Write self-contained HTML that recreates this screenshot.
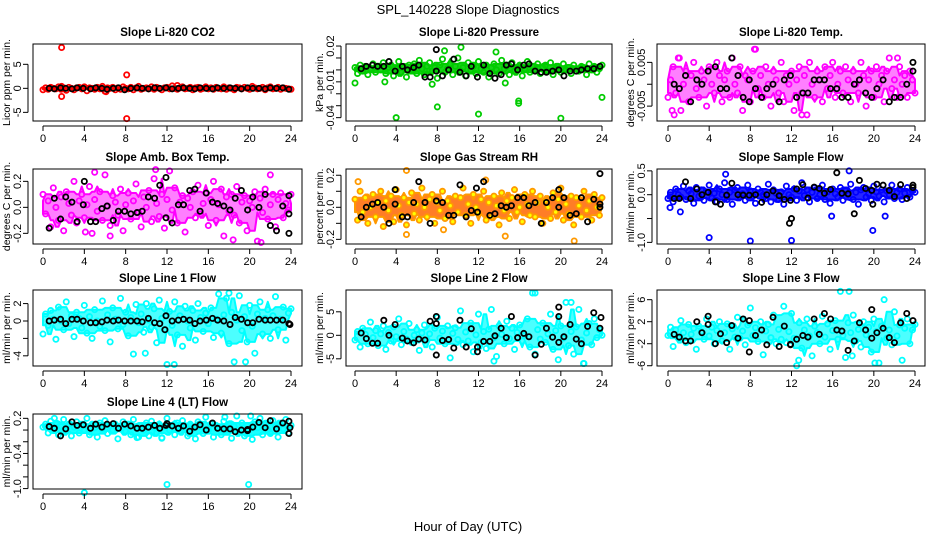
<!DOCTYPE html>
<html><head><meta charset="utf-8">
<style>
html,body{margin:0;padding:0;background:#fff;}
svg{display:block;font-family:"Liberation Sans",Arial,sans-serif;}
</style></head>
<body>
<svg id="chart" width="936" height="540" viewBox="0 0 936 540" xmlns="http://www.w3.org/2000/svg">
<text x="468" y="14" text-anchor="middle" font-size="13">SPL_140228  Slope Diagnostics</text>
<text x="468" y="531" text-anchor="middle" font-size="13">Hour of Day (UTC)</text>
</svg>
<script>
const xTicks = [0,4,8,12,16,20,24];
const blackHours = [0.6,1.1,1.7,2.2,2.8,3.3,3.9,4.6,5.1,5.7,6.2,6.8,7.3,7.9,8.5,9.1,9.6,10.2,10.8,11.3,11.9,12.5,13.1,13.6,14.2,14.7,15.2,15.8,16.4,16.9,17.5,18.1,18.6,19.2,19.8,20.3,20.9,21.5,22.0,22.6,23.2,23.8];

const co2C = [-0.3,0.1,-0.2,0.2,0,-0.1,0.3,-0.2,0.1,-0.4,0.2,0,-0.3,0.1,0.2,-0.1,0.3,-0.5,0.1,0,-0.2,0.2,-0.1,0.4,-0.6,0.1,0,0.2,-0.3,0.1,-0.2,0.3,0,-0.1,0.2,-0.3,0.1,0.4,-0.2,0,0.1,-0.1,0.3,-0.2,0.2,0,-0.3,0.1,0.2,-0.1,0.5,0,-0.2,0.1,0.3,-0.1,0,0.2,-0.3,0.1,0.2,-0.2,0,0.3,-0.1,0.1,-0.2,0.2,0,-0.1,0.3,-0.2,0.1,0,-0.3,0.2,0.1,-0.1,0.2,0,-0.2,0.4,0.1,-0.1,0,0.2,-0.3,0.1,0.3,-0.1,0,0.2,-0.2,0.1,0,-0.1,-0.2];
const co2K = [0,-0.1,0.1,0,-0.1,0.1,0,-0.1,0.1,0,-0.2,0,0.1,-0.3,0,0.1,0,-0.1,0.1,0,0.1,-0.1,0,0.1,0,-0.1,0.1,0,-0.1,0.1,0,0.1,0,-0.1,0.1,0,0,-0.1,0.1,0,0.1,-0.2];
const co2Out = [[1.8,8.5],[1.8,-1.7],[8.1,2.8],[8.1,-6.3],[6.1,-0.7],[1.8,0.4],[13,0.6]];
const co2KOut = [];

const presC = [0.002,-0.003,0.004,-0.001,0.003,-0.004,0.001,0.005,-0.002,0.003,0.000,0.006,-0.003,0.002,0.004,-0.005,0.001,0.007,-0.002,0.003,-0.006,0.004,0.000,0.005,-0.003,0.008,0.001,-0.004,0.003,0.006,-0.001,0.002,-0.007,0.004,0.009,-0.002,0.001,0.005,-0.004,0.003,0.010,-0.001,0.002,-0.005,0.006,0.000,0.003,-0.003,0.007,0.001,-0.002,0.004,-0.006,0.002,0.005,0.000,-0.003,0.008,0.001,0.003,-0.004,0.006,-0.001,0.002,0.004,-0.005,0.001,0.007,-0.002,0.003,0.000,0.005,-0.003,0.002,0.004,-0.001,0.006,-0.004,0.001,0.003,-0.002,0.005,0.000,0.002,-0.003,0.004,0.001,-0.001,0.003,0.002,-0.004,0.005,0.000,0.003,-0.002,0.001,0.004];
const presK = [0.001,0.003,0.004,0.003,0.003,0.007,-0.001,0.003,0.000,0.002,0.004,-0.006,-0.006,-0.001,-0.005,0.000,0.009,-0.002,-0.005,0.003,-0.006,0.004,-0.003,-0.007,-0.004,0.004,0.005,0.000,0.004,0.005,-0.001,-0.002,-0.002,-0.001,0.000,-0.005,-0.001,-0.001,0.000,0.001,0.001,0.003];
const presOut = [[0,-0.011],[2.9,-0.010],[4,-0.040],[8,-0.031],[12,-0.037],[15.9,-0.026],[15.9,-0.028],[20,-0.0405],[24,-0.023],[10.3,0.019],[8.7,0.016],[13.7,0.015],[7.5,-0.012],[14.6,-0.011]];
const presKOut = [[7.9,0.017]];

const tempC = [-0.003,0.001,0.004,-0.002,0.006,-0.006,0.000,0.003,-0.004,0.002,0.005,-0.001,-0.003,0.003,0.001,-0.005,0.004,0.000,-0.002,0.005,0.002,-0.004,0.001,0.003,-0.003,0.006,0.000,-0.002,0.004,-0.006,0.002,0.001,-0.004,0.003,0.008,-0.001,0.002,-0.003,0.004,0.000,-0.005,0.003,0.001,-0.002,0.005,-0.004,0.002,0.000,0.003,-0.006,0.001,0.004,-0.002,0.002,-0.007,0.005,0.000,-0.003,0.003,0.001,-0.004,0.004,-0.001,0.002,0.005,-0.003,0.000,0.003,-0.002,0.004,0.001,-0.004,0.003,0.000,-0.002,0.005,0.002,-0.005,0.001,0.003,-0.003,0.004,0.000,0.002,-0.004,0.003,0.006,-0.001,0.001,-0.003,0.004,0.000,0.002,-0.003,0.003,0.001,-0.002];
const tempK = [0.000,-0.001,0.002,-0.004,0.001,0.000,0.003,0.004,-0.001,-0.001,0.006,0.002,-0.003,0.001,-0.001,-0.003,-0.001,0.000,-0.004,0.001,0.002,-0.003,-0.002,-0.002,0.001,0.001,0.001,-0.001,-0.001,-0.003,-0.003,0.000,0.001,-0.002,-0.003,-0.001,0.001,-0.004,-0.003,-0.003,0.000,0.003];
const tempOut = [[0.6,-0.007],[1.1,0.006],[8.4,0.008],[13.0,-0.007],[0.4,-0.006],[22.3,0.006]];
const tempKOut = [[23.8,0.005],[7.9,-0.004]];

const boxC = [0.1,-0.05,0.05,-0.15,0.15,0,-0.1,0.08,-0.18,0.12,0.03,-0.06,0.2,-0.12,0.05,0.1,-0.08,0.02,0.16,-0.2,0.06,-0.03,0.12,-0.1,0.25,0.01,-0.14,0.09,0.04,-0.06,0.14,-0.18,0.02,0.11,-0.09,0.05,0.18,-0.04,-0.15,0.08,0.0,0.13,-0.11,0.22,0.03,-0.07,0.1,-0.16,0.06,0.28,-0.02,0.15,-0.12,0.04,0.09,-0.19,0.07,0.0,0.12,-0.08,0.17,-0.05,0.03,0.11,-0.14,0.06,0.2,-0.1,0.02,0.14,-0.22,0.08,-0.03,0.1,-0.06,0.16,-0.12,0.04,0.09,-0.18,0.05,0.0,0.12,-0.26,0.07,-0.04,0.14,-0.09,0.02,0.1,-0.15,0.06,0.11,-0.08,0.03,-0.02,0.1];
const boxK = [-0.16,0.07,-0.09,0.08,0.04,-0.11,0.02,-0.11,-0.11,-0.01,0.01,-0.1,-0.03,-0.03,-0.05,-0.04,-0.03,0.08,0.07,0.17,-0.08,-0.12,0.02,0.02,0.13,0.14,-0.03,0.11,0.04,0.03,0.01,-0.02,0.07,0.13,-0.02,0.08,0.0,0.1,-0.14,-0.18,0.01,0.09];
const boxOut = [[5.0,0.27],[10.9,0.29],[22.0,0.25],[21.1,-0.27],[4.1,-0.19],[18.4,-0.25],[6.5,-0.22]];
const boxKOut = [[4.0,0.2],[11.9,0.23],[23.8,-0.2],[23.8,-0.05]];

const rhC = [0.05,-0.08,0.1,-0.03,0.06,-0.1,0.0,0.08,-0.06,0.03,0.1,-0.12,0.04,-0.02,0.07,-0.09,0.11,0.01,-0.05,0.06,-0.11,0.03,0.09,-0.04,0.02,-0.08,0.12,0.0,-0.06,0.05,0.08,-0.1,0.03,-0.02,0.1,-0.07,0.04,0.01,-0.09,0.07,-0.03,0.06,0.12,-0.05,0.02,-0.1,0.08,0.0,-0.04,0.05,0.1,-0.08,0.03,-0.06,0.07,0.01,-0.11,0.09,-0.02,0.04,-0.07,0.06,0.11,-0.03,0.0,-0.09,0.08,0.02,-0.05,0.1,-0.06,0.03,0.07,-0.1,0.04,0.0,-0.07,0.09,-0.03,0.05,0.12,-0.08,0.02,-0.04,0.07,-0.11,0.06,0.01,-0.06,0.1,-0.02,0.04,-0.08,0.08,0.0,-0.05,0.06];
const rhK = [-0.06,0.0,0.02,0.03,0.0,-0.1,0.02,-0.06,-0.06,0.03,0.16,0.03,-0.1,0.04,0.03,-0.05,-0.05,0.14,-0.06,-0.02,-0.03,0.16,-0.05,-0.04,0.01,0.0,0.01,0.06,0.06,0.01,0.03,-0.1,0.03,0.06,0.0,0.06,-0.05,-0.04,0.06,-0.09,0.05,0.02];
const rhOut = [[5.0,0.23],[5.0,-0.17],[14.6,-0.18],[21.3,-0.21],[0.3,0.16],[12.7,0.17],[8.6,-0.14]];
const rhKOut = [[23.8,0.21],[19.8,0.11],[3.9,0.11],[11.8,0.12],[23.8,0.0]];

const sampC = [-0.08,0.05,-0.15,0.12,0.0,-0.05,0.18,-0.1,0.08,0.02,-0.18,0.15,-0.03,0.1,-0.12,0.06,0.2,-0.07,0.03,-0.15,0.12,0.0,0.25,-0.1,0.05,-0.2,0.1,0.15,-0.05,0.02,-0.12,0.2,0.08,-0.03,-0.18,0.12,0.05,0.0,-0.08,0.22,-0.15,0.1,0.03,-0.1,0.06,-0.2,0.18,0.0,-0.05,0.12,-0.12,0.08,0.25,-0.02,0.1,-0.15,0.05,0.15,-0.08,0.0,0.2,-0.1,0.06,-0.18,0.12,0.02,-0.05,0.15,-0.12,0.08,0.0,0.22,-0.1,0.05,-0.2,0.1,0.15,-0.05,0.02,-0.12,0.18,0.06,-0.03,0.1,-0.15,0.08,0.0,0.2,-0.08,0.05,0.12,-0.1,0.03,0.15,-0.05,0.08,0.05];
const sampK = [-0.08,-0.08,0.27,-0.08,0.12,0.0,0.05,-0.15,-0.2,-0.01,0.24,0.0,-0.01,-0.01,0.0,-0.16,0.0,0.08,-0.02,-0.1,-0.12,0.12,0.21,-0.07,0.16,0.13,0.03,0.11,0.46,0.03,0.02,-0.4,0.3,0.13,0.09,0.22,0.2,0.09,-0.04,0.21,-0.08,0.2];
const sampOut = [[4.0,-0.9],[8.0,-0.97],[12.0,-0.96],[19.9,-0.75],[5.6,0.43],[17.6,0.5],[15.9,-0.45],[21.1,-0.45],[1.2,-0.36],[0.2,-0.27]];
const sampKOut = [[11.8,-0.6],[12.0,-0.5],[23.8,0.15],[19.9,-0.2]];

const l1C = [-1.5,0.8,-0.5,1.2,0.2,-2.1,1.6,0.0,-1.0,2.2,-0.3,0.6,-1.8,1.0,0.3,-0.8,1.8,-1.4,0.5,-2.0,1.3,0.0,-0.6,2.3,-1.1,0.7,-2.4,1.5,0.2,-0.9,2.6,-0.4,1.0,-1.7,0.4,-3.8,1.9,-0.2,0.8,-1.3,2.0,0.1,-0.7,1.4,-2.5,2.4,0.3,-1.0,-5.0,1.1,-0.5,2.2,-1.6,0.6,-2.9,1.7,0.0,-0.8,1.2,-2.2,2.0,0.4,-1.2,0.9,-0.3,1.5,-1.9,0.2,3.1,-1.4,0.7,2.6,-2.6,1.0,-4.7,0.1,2.9,-1.1,0.5,-2.4,1.8,-0.6,-3.7,0.8,2.2,-1.5,0.3,1.3,-2.0,0.6,2.8,-1.0,0.2,1.6,-2.2,0.9,1.4];
const l1K = [0.0,0.1,0.2,-0.3,0.2,0.2,0.0,-0.2,-0.2,-0.1,0.1,0.0,0.1,0.0,0.0,0.0,-0.1,0.3,-0.2,-0.3,0.6,0.0,0.1,0.2,0.1,-0.3,0.0,0.1,0.3,0.1,0.0,-0.4,0.4,0.2,-0.2,-0.2,0.2,0.1,0.1,0.1,0.1,-0.3];
const l1Out = [[12.7,-5.0],[19.6,-4.7],[18.0,3.2],[9.9,-3.7]];
const l1KOut = [[11.8,-1.0],[23.9,-0.4]];

const l2C = [-1.0,0.8,-2.5,1.5,0.2,-1.8,2.8,-0.5,1.0,-2.2,0.3,2.0,-3.0,0.6,-1.2,1.8,-0.3,3.5,-2.0,0.8,-0.8,2.5,-1.5,0.0,1.2,-3.2,0.5,2.2,-1.0,0.3,-2.5,1.5,3.8,-0.6,0.9,-1.8,2.0,-4.8,0.4,1.6,-0.9,5.2,-2.0,0.7,-1.2,2.6,-3.5,0.1,4.5,-1.5,0.8,-2.8,1.3,5.5,-0.5,-4.5,2.0,0.2,-1.8,3.0,-0.7,1.5,-3.0,0.6,2.2,-1.2,0.0,3.5,-2.5,9.0,-4.0,1.2,-0.8,2.6,-1.5,0.3,4.5,-3.0,1.0,-5.2,2.0,-0.6,7.0,-2.2,0.8,-4.0,1.8,5.5,-1.0,-6.0,0.5,2.5,-2.0,3.5,-0.5,1.2,0.0];
const l2K = [0.5,-0.7,-1.7,-1.7,3.2,0.0,2.3,-0.6,-1.2,-1.6,-0.8,-1.0,3.0,2.5,-1.1,-0.9,-2.7,3.2,-2.5,1.4,-2.5,-1.3,-1.3,-0.1,1.5,-0.5,4.0,-0.5,0.4,-0.3,-4.2,-1.9,1.5,-0.4,-1.5,-0.3,2.3,-0.8,-1.8,1.9,4.8,1.5];
const l2Out = [[17.5,9.0],[21.0,7.0],[22.2,-6.0],[13.5,-5.5]];
const l2KOut = [[7.9,-4.2],[7.9,4.0],[19.8,6.0],[19.8,4.0],[23.9,3.8],[11.9,-3.5]];

const l3C = [-0.5,1.0,-2.5,0.5,-1.0,2.2,0.0,-1.8,1.5,-0.3,0.8,-3.0,1.2,0.2,-1.2,2.5,-0.6,1.0,-2.0,0.4,2.0,-1.5,0.0,1.6,-3.0,0.7,-0.8,2.8,-1.0,0.3,-2.2,1.4,4.5,-0.5,0.9,-1.6,2.0,-4.0,0.3,1.5,-0.9,3.2,-2.0,0.6,-1.2,4.8,-1.8,0.2,3.5,-1.0,-6.0,1.8,-2.8,0.5,2.5,-0.6,-4.2,1.2,0.0,-2.0,3.0,-0.8,1.6,-3.0,0.4,2.2,-1.2,7.5,-0.5,-4.5,1.8,0.0,3.2,-1.5,0.6,-2.6,2.0,-0.4,1.0,-3.5,2.5,0.2,-5.5,1.2,6.0,-1.0,0.5,-2.2,3.8,-0.6,1.4,-5.0,0.8,2.5,-2.0,0.5,1.5];
const l3K = [-0.3,-0.8,-1.5,-1.5,2.0,0.0,3.0,-2.0,-0.2,-1.8,1.3,-1.0,2.5,2.2,-0.5,0.5,-2.2,2.8,-2.5,1.2,-2.2,-1.2,-0.5,-0.8,2.5,-0.3,3.5,2.5,0.5,0.3,-3.2,-1.5,1.8,0.5,-1.0,0.0,0.8,-0.9,-1.8,1.8,3.5,2.2];
const l3Out = [[17.6,7.5],[12.7,-5.0],[20.1,-5.5],[17.9,-4.2]];
const l3KOut = [[7.9,-3.5],[19.8,4.2],[11.9,-2.1],[3.9,1.5]];

const l4C = [0.05,0.1,-0.05,0.15,0.0,0.12,-0.08,0.06,0.18,-0.02,0.1,-0.1,0.05,0.14,-0.05,0.08,0.0,0.2,-0.08,0.1,0.04,-0.12,0.12,0.02,0.16,-0.06,0.08,0.0,0.1,-0.15,0.06,0.14,-0.02,0.1,-0.08,0.18,0.04,-0.12,0.08,0.0,0.12,-0.1,0.15,0.05,-0.05,0.1,-0.14,0.06,0.2,0.0,0.08,-0.08,0.12,-0.02,0.16,0.04,-0.1,0.1,0.02,-0.15,0.14,0.06,-0.06,0.22,0.0,0.1,-0.12,0.08,0.04,-0.08,0.15,0.0,0.1,-0.14,0.06,0.24,-0.04,0.12,-0.1,0.08,0.02,-0.16,0.14,0.04,0.2,-0.08,0.1,0.0,-0.06,0.16,0.06,-0.12,0.1,0.02,0.18,-0.05,0.08];
const l4K = [0.06,0.03,-0.1,0.02,0.14,0.08,0.09,0.03,0.1,0.05,0.1,0.11,0.03,0.1,0.07,0.03,0.03,0.05,0.08,0.03,0.08,0.07,0.03,0.07,-0.02,0.05,0.09,0.0,0.12,0.03,0.02,0.02,-0.03,0.0,0.01,0.05,0.13,0.04,0.16,0.02,0.12,0.15];
const l4Out = [[4.0,-1.07],[12.0,-0.93],[19.9,-0.93],[1.1,0.2],[17.6,0.22],[20.1,0.24],[9.1,-0.13],[11.5,-0.13]];
const l4KOut = [[23.8,-0.06],[23.9,0.04],[12.0,0.11],[19.8,-0.01]];

const NS='http://www.w3.org/2000/svg';
const svg=document.getElementById('chart');
function mk(tag,attrs,parent){const e=document.createElementNS(NS,tag);for(const k in attrs)e.setAttribute(k,attrs[k]);(parent||svg).appendChild(e);return e;}

const cols=[{L:33,R:302,x0:43,x24:291},{L:346,R:612,x0:355,x24:602},{L:657,R:925,x0:668,x24:915}];
const rows=[{T:44,B:121},{T:169,B:244},{T:290,B:366},{T:414,B:489}];

const panels=[
 {id:'co2',title:'Slope Li-820 CO2',ylab:'Licor ppm per min.',c:0,r:0,vT:9.23,vB:-6.8,ticks:[-5,0,5],labels:['-5','0','5'],col:'#ff0000',band:0.9,data:co2C,black:co2K,out:co2Out,kout:co2KOut},
 {id:'pressure',title:'Slope Li-820 Pressure',ylab:'kPa per min.',c:1,r:0,vT:0.0217,vB:-0.0428,ticks:[0.02,0.01,0,-0.01,-0.02,-0.03,-0.04],labels:['0.02','','','-0.01','','','-0.04'],col:'#00cc00',band:0.9,data:presC,black:presK,out:presOut,kout:presKOut},
 {id:'temp',title:'Slope Li-820 Temp.',ylab:'degrees C per min.',c:2,r:0,vT:0.0092,vB:-0.0084,ticks:[0.005,0,-0.005],labels:['0.005','','-0.005'],col:'#ff00ff',band:0.5,data:tempC,black:tempK,out:tempOut,kout:tempKOut},
 {id:'box-temp',title:'Slope Amb. Box Temp.',ylab:'degrees C per min.',c:0,r:1,vT:0.295,vB:-0.282,ticks:[0.2,0,-0.2],labels:['0.2','0.0','-0.2'],col:'#ff00ff',band:0.5,data:boxC,black:boxK,out:boxOut,kout:boxKOut},
 {id:'rh',title:'Slope Gas Stream RH',ylab:'percent per min.',c:1,r:1,vT:0.239,vB:-0.229,ticks:[0.2,0.1,0,-0.1,-0.2],labels:['0.2','','0.0','','-0.2'],col:'#ff9900',band:0.85,data:rhC,black:rhK,out:rhOut,kout:rhKOut},
 {id:'sample-flow',title:'Slope Sample Flow',ylab:'ml/min per min.',c:2,r:1,vT:0.539,vB:-1.034,ticks:[0.5,0,-0.5,-1],labels:['0.5','0.0','','-1.0'],col:'#0000ff',band:0.85,data:sampC,black:sampK,out:sampOut,kout:sampKOut},
 {id:'line1-flow',title:'Slope Line 1 Flow',ylab:'ml/min per min.',c:0,r:2,vT:3.56,vB:-5.17,ticks:[2,0,-2,-4],labels:['2','0','','-4'],col:'#00ffff',band:0.7,data:l1C,black:l1K,out:l1Out,kout:l1KOut},
 {id:'line2-flow',title:'Slope Line 2 Flow',ylab:'ml/min per min.',c:1,r:2,vT:9.64,vB:-6.53,ticks:[5,0,-5],labels:['5','0','-5'],col:'#00ffff',band:0.7,data:l2C,black:l2K,out:l2Out,kout:l2KOut},
 {id:'line3-flow',title:'Slope Line 3 Flow',ylab:'ml/min per min.',c:2,r:2,vT:7.76,vB:-6.05,ticks:[6,2,-2,-6],labels:['6','2','-2','-6'],col:'#00ffff',band:0.7,data:l3C,black:l3K,out:l3Out,kout:l3KOut},
 {id:'line4-flow',title:'Slope Line 4 (LT) Flow',ylab:'ml/min per min.',c:0,r:3,vT:0.274,vB:-1.007,ticks:[0.2,0,-0.2,-0.4,-0.6,-0.8,-1.0],labels:['0.2','','','-0.4','','','-1.0'],col:'#00ffff',band:0.9,data:l4C,black:l4K,out:l4Out,kout:l4KOut}
];

panels.forEach(p=>{
  const C=cols[p.c],R=rows[p.r];
  const xs=v=>C.x0+(C.x24-C.x0)*v/24;
  const ys=v=>R.T+(R.B-R.T)*(p.vT-v)/(p.vT-p.vB);
  const g=mk('g',{});
  
  
  const t=mk('text',{x:(C.L+C.R)/2,y:R.T-8,'text-anchor':'middle','font-size':'11.5','font-weight':'bold'},g);
  t.textContent=p.title;
  
  
  const yl=mk('text',{transform:`translate(${C.L-23},${(R.T+R.B)/2}) rotate(-90)`,'text-anchor':'middle','font-size':'10.5'},g);
  yl.textContent=p.ylab;
  
  
  const n=p.data.length;
  // dense-cloud band derived from local spread of the data
  const up=[],lo=[];
  for(let i=0;i<n;i++){
    const w=[];
    for(let j=Math.max(0,i-3);j<=Math.min(n-1,i+3);j++)w.push(p.data[j]);
    w.sort((a,b)=>a-b);
    const h=i*24/(n-1);
    lo.push([xs(h),ys(w[1])]);
    up.push([xs(h),ys(w[w.length-2])]);
  }
  const pts=up.concat(lo.reverse()).map(q=>q[0].toFixed(1)+','+q[1].toFixed(1)).join(' ');
  const band=mk('polygon',{points:pts,fill:p.id==='rh'?'#ff6600':p.col,'fill-opacity':p.band,stroke:p.col,'stroke-width':2,'stroke-linejoin':'round'},g);
  
  
  p.data.forEach((v,i)=>{
    const h=i*24/(n-1);
    const c=mk('circle',{cx:xs(h),cy:ys(v),r:2.6,fill:p.id==='rh'?'#ffff00':'none',stroke:p.col,'stroke-width':1.8},g);
    
    
  });
  p.out.forEach(o=>{
    const c=mk('circle',{cx:xs(o[0]),cy:ys(o[1]),r:2.6,fill:'none',stroke:p.col,'stroke-width':1.8},g);
    
    
  });
  p.black.forEach((v,i)=>{
    const c=mk('circle',{cx:xs(blackHours[i]),cy:ys(v),r:2.6,fill:'none',stroke:'#000','stroke-width':1.8},g);
    
    
  });
  p.kout.forEach(o=>{
    const c=mk('circle',{cx:xs(o[0]),cy:ys(o[1]),r:2.6,fill:'none',stroke:'#000','stroke-width':1.8},g);
    
    
  });
  const box=mk('rect',{x:C.L,y:R.T,width:C.R-C.L,height:R.B-R.T,fill:'none',stroke:'#000','stroke-width':1},g);
  
  
  mk('line',{x1:xs(0),x2:xs(24),y1:R.B+5,y2:R.B+5,stroke:'#000'},g);
  xTicks.forEach(v=>{
    mk('line',{x1:xs(v),x2:xs(v),y1:R.B+5,y2:R.B+10,stroke:'#000'},g);
    const tl=mk('text',{x:xs(v),y:R.B+21,'text-anchor':'middle','font-size':'11'},g);
    tl.textContent=v;
    
    
  });
  mk('line',{x1:C.L-5,x2:C.L-5,y1:ys(p.ticks[0]),y2:ys(p.ticks[p.ticks.length-1]),stroke:'#000'},g);
  p.ticks.forEach((v,i)=>{
    mk('line',{x1:C.L-10,x2:C.L-5,y1:ys(v),y2:ys(v),stroke:'#000'},g);
    if(p.labels[i]){
      const tl=mk('text',{transform:`translate(${C.L-12},${ys(v)}) rotate(-90)`,'text-anchor':'middle','font-size':'11'},g);
      tl.textContent=p.labels[i];
      
      
    }
  });
});
</script>
</body></html>
